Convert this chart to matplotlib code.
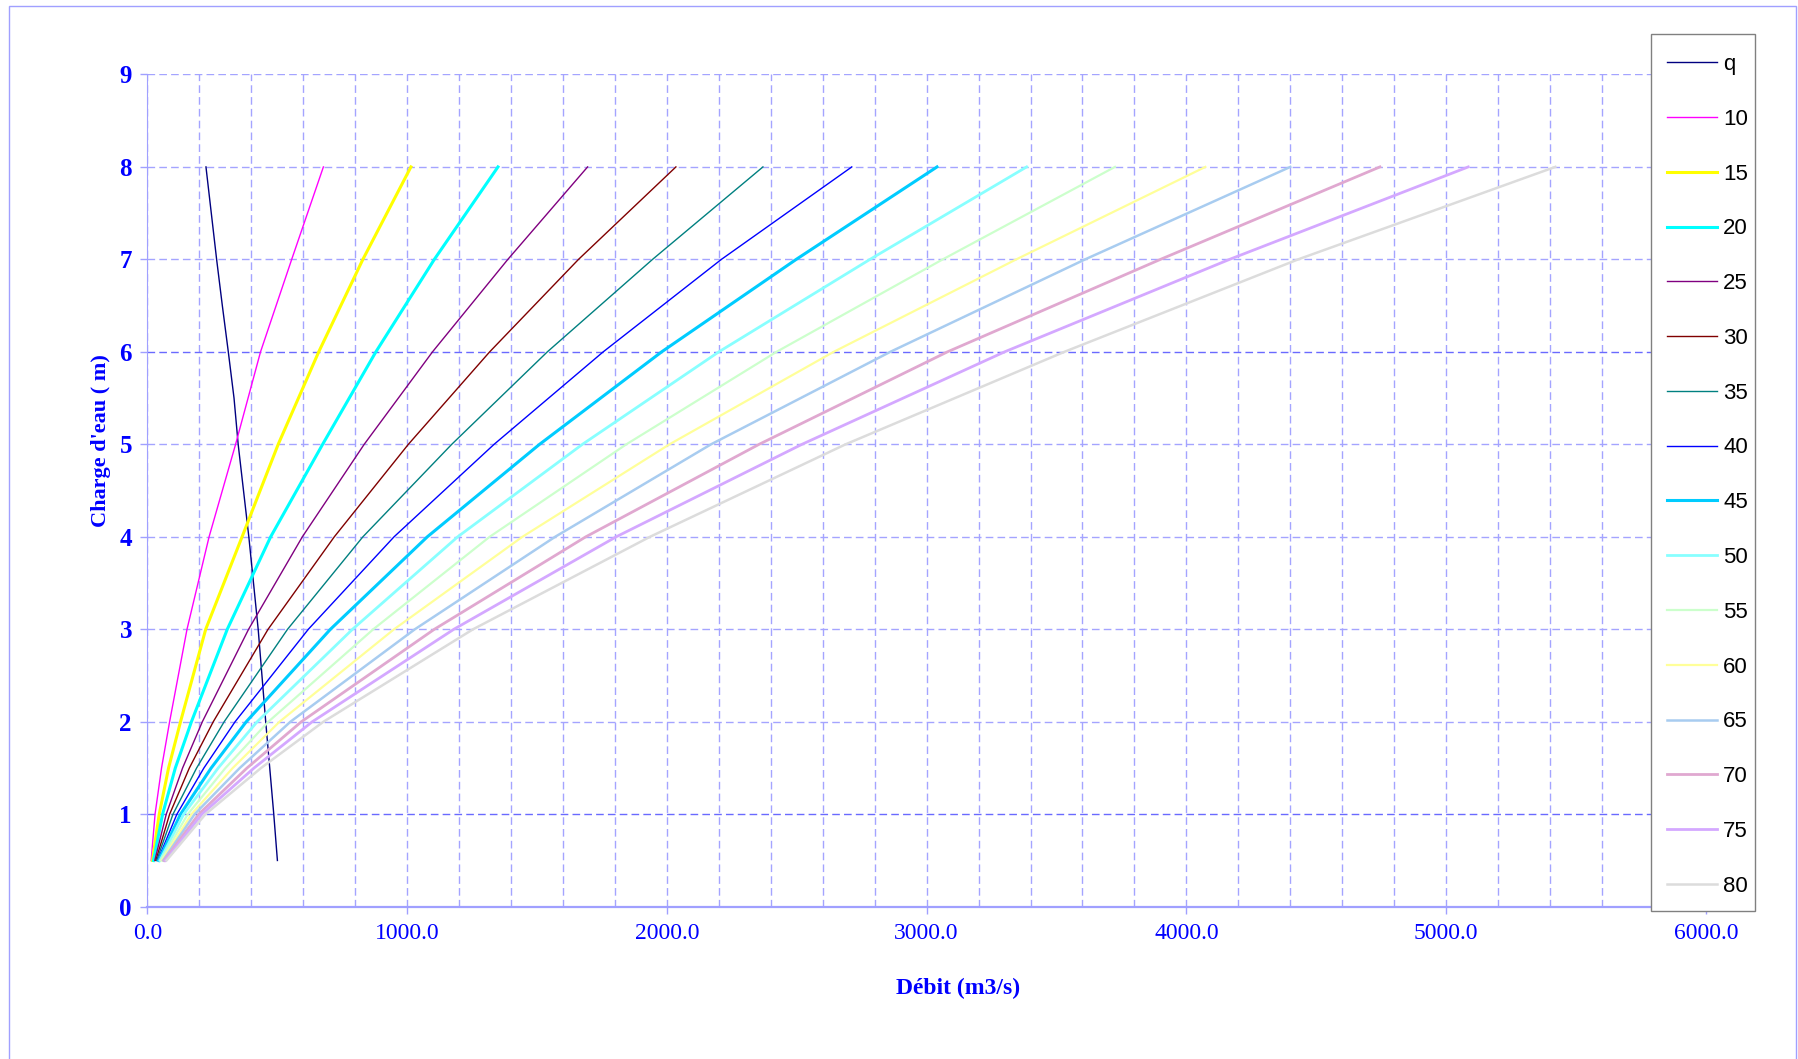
import matplotlib.pyplot as plt
from matplotlib.patches import Rectangle
from matplotlib.ticker import MultipleLocator

# Charge d'eau (m) commune à toutes les courbes de largeur
H = [0.5, 1.0, 1.5, 2.0, 3.0, 4.0, 5.0, 6.0, 7.0, 8.0]

# Courbe q : débit en fonction de la charge
H_q = [8.0, 7.0, 6.5, 6.0, 5.5, 5.0, 4.0, 3.0, 2.0, 1.0, 0.5]
Q_q = [226, 267, 289, 312, 334, 350, 391, 427, 456, 487, 501]

# Débits (m3/s) pour chaque largeur
Q10 = [15, 30, 55, 86, 153, 238, 340, 436, 556, 678]
Q15 = [20, 46, 82, 128, 225, 365, 504, 660, 830, 1015]
Q20 = [24, 59, 108, 170, 308, 475, 675, 880, 1105, 1350]
Q25 = [29, 73, 136, 212, 390, 597, 835, 1098, 1388, 1695]
Q30 = [33, 86, 162, 254, 465, 720, 1005, 1318, 1660, 2035]
Q35 = [36, 99, 190, 296, 540, 830, 1172, 1540, 1945, 2370]
Q40 = [40, 114, 218, 338, 620, 950, 1335, 1755, 2210, 2712]
Q45 = [44, 128, 246, 381, 705, 1078, 1510, 1980, 2498, 3040]
Q50 = [49, 140, 273, 423, 790, 1195, 1675, 2200, 2782, 3385]
Q55 = [52, 156, 301, 466, 870, 1318, 1844, 2422, 3062, 3725]
Q60 = [57, 170, 329, 509, 950, 1444, 2010, 2642, 3345, 4073]
Q65 = [61, 182, 356, 551, 1030, 1570, 2170, 2860, 3610, 4400]
Q70 = [65, 198, 384, 593, 1105, 1688, 2355, 3080, 3900, 4745]
Q75 = [70, 210, 411, 635, 1180, 1805, 2520, 3300, 4166, 5085]
Q80 = [74, 224, 438, 678, 1254, 1935, 2688, 3530, 4430, 5420]

labels = ["10", "15", "20", "25", "30", "35", "40", "45",
          "50", "55", "60", "65", "70", "75", "80"]
series = [Q10, Q15, Q20, Q25, Q30, Q35, Q40, Q45,
          Q50, Q55, Q60, Q65, Q70, Q75, Q80]

colors = ["#FF00FF", "#FFFF00", "#00FFFF", "#800080", "#800000", "#008080",
          "#0000FF", "#00CCFF", "#88FFFF", "#CCFFCC", "#FFFF99", "#A8CCF0",
          "#E0A8D0", "#D4A8FF", "#DCDCDC"]
widths = [1.0, 2.2, 2.2, 1.0, 1.0, 1.0, 1.0, 2.2, 2.0, 1.6, 1.6, 1.8,
          2.0, 2.0, 1.8]

blue = "#0000FF"
gridc = "#A4A4FF"
dash = (0, (5.5, 3))
W, Hpx = 1798, 1059

fig = plt.figure(figsize=(W / 100, Hpx / 100), dpi=100)
ax = fig.add_axes([0.0819, 0.1438, 0.8669, 0.7859])

ax.plot(Q_q, H_q, color="#000080", lw=1.0, label="q", zorder=3)
for lab, q, c, w in zip(labels, series, colors, widths):
    ax.plot(q, H, color=c, lw=w, label=lab, zorder=3)

ax.set_xlim(0, 6000)
ax.set_ylim(0, 9)
ax.xaxis.set_major_locator(MultipleLocator(1000))
ax.xaxis.set_minor_locator(MultipleLocator(200))
ax.yaxis.set_major_locator(MultipleLocator(1))
ax.set_xticklabels([f"{v:.1f}" for v in ax.get_xticks()])

ax.grid(True, which="both", axis="x", color=gridc, lw=1.0, ls=dash, zorder=1)
ax.grid(True, which="major", axis="y", color=gridc, lw=1.0, ls=dash, zorder=1)
ax.set_axisbelow(True)
# les lignes 1 et 6 ressortent plus foncées
for v, gl in zip(ax.get_yticks(), ax.get_ygridlines()):
    if v in (1, 6):
        gl.set_color("#6A6AFF")

for s in ["top", "right"]:
    ax.spines[s].set_visible(False)
ax.spines["left"].set_color("#A0A0FF")
ax.spines["bottom"].set_color("#A0A0FF")
ax.spines["bottom"].set_linewidth(1.6)

ax.tick_params(axis="both", which="major", length=5, width=1, color="#A0A0FF")
ax.tick_params(axis="x", which="minor", length=0)
ax.tick_params(axis="x", pad=7)
ax.tick_params(axis="y", pad=6)
for t in ax.get_xticklabels():
    t.set_fontfamily("Liberation Serif")
    t.set_fontsize(17)
    t.set_color(blue)
for t in ax.get_yticklabels():
    t.set_fontfamily("Liberation Serif")
    t.set_fontsize(18)
    t.set_fontweight("bold")
    t.set_color(blue)

ax.set_xlabel("Débit (m3/s)", fontfamily="Liberation Serif", fontsize=17,
              fontweight="bold", color=blue)
ax.set_ylabel("Charge d'eau ( m)", fontfamily="Liberation Serif", fontsize=16,
              fontweight="bold", color=blue)
ax.xaxis.set_label_coords(0.52, -0.086)
ax.yaxis.set_label_coords(-0.023, 0.56)

# cadre de légende dessiné à part pour maîtriser sa taille
x0, x1, y0, y1 = 1650.7, 1755.3, 33.7, 911.0
legframe = Rectangle((x0 / W, 1 - y1 / Hpx), (x1 - x0) / W, (y1 - y0) / Hpx,
                     transform=fig.transFigure, fc="white", ec="#808080",
                     lw=1.0, clip_on=False, zorder=4)
ax.add_artist(legframe)

leg = ax.legend(loc="upper left", bbox_to_anchor=(1667 / W, 1 - 54 / Hpx),
                bbox_transform=fig.transFigure, borderaxespad=0, borderpad=0,
                frameon=False, labelspacing=1.52, handlelength=2.27,
                handletextpad=0.26,
                prop={"family": "Liberation Sans", "size": 16})
leg.set_zorder(5)

# cadre extérieur
fig.patches.append(Rectangle((8.5 / W, -0.01), (1796 - 8.5) / W,
                             1.01 - 5.5 / Hpx, transform=fig.transFigure,
                             fill=False, ec="#A0A0FF", lw=1.0))

fig.savefig("out.png", dpi=100)
